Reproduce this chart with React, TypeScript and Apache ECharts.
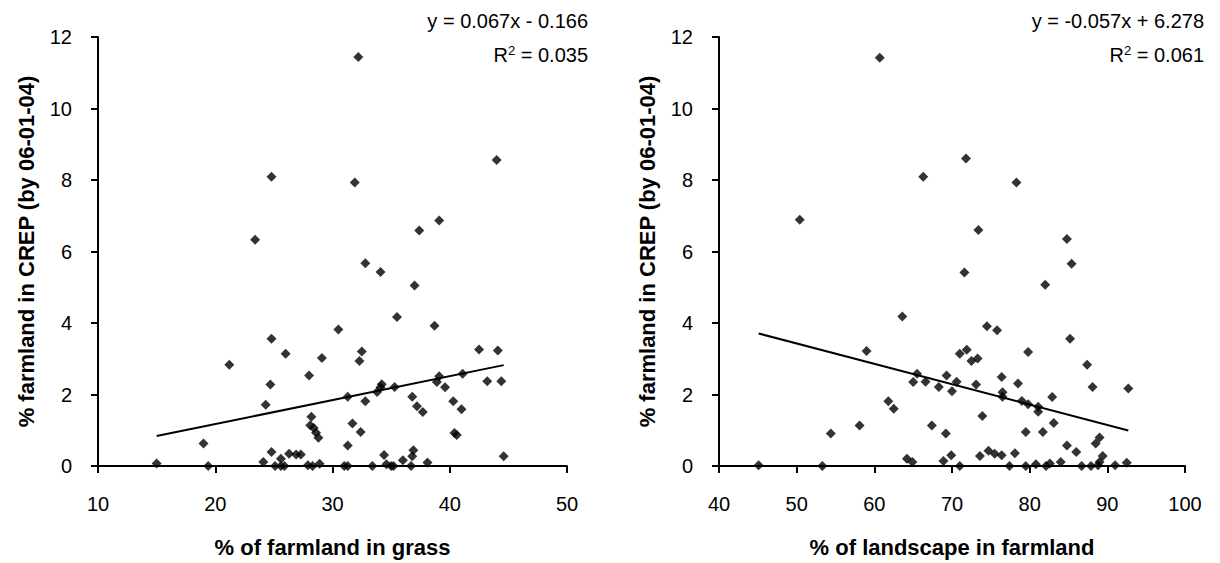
import React, { useEffect, useRef } from "react";
import * as echarts from "echarts";

// Left panel: % of farmland in grass vs % farmland in CREP
const grassPct = [
  32.2, 24.8, 31.9, 44.0, 39.1, 37.4, 23.4, 32.8, 34.1, 37.0,
  35.5, 30.5, 38.7, 24.8, 32.5, 32.3, 29.1, 26.0, 21.2, 28.0,
  24.7, 24.3, 42.5, 44.1, 43.2, 44.4, 39.1, 38.9, 41.1, 39.6,
  34.2, 34.1, 33.8, 35.3, 31.3, 32.8, 36.8, 37.2, 37.7, 40.3,
  41.0, 28.2, 28.1, 28.4, 28.6, 28.8, 31.7, 32.4, 40.4, 40.6,
  19.0, 31.3, 44.6, 34.4, 36.9, 36.8, 36.0, 38.1, 15.0, 19.4,
  24.1, 24.8, 25.1, 25.6, 25.9, 25.6, 26.3, 26.9, 27.3, 27.9,
  28.3, 28.9, 31.0, 31.3, 33.4, 34.6, 35.0, 35.2, 36.7,
];
const crepLeft = [
  11.44, 8.09, 7.93, 8.56, 6.87, 6.59, 6.33, 5.67, 5.43, 5.05,
  4.17, 3.82, 3.92, 3.56, 3.2, 2.94, 3.02, 3.14, 2.83, 2.53,
  2.28, 1.71, 3.26, 3.23, 2.37, 2.37, 2.51, 2.35, 2.58, 2.2,
  2.29, 2.2, 2.07, 2.21, 1.94, 1.81, 1.94, 1.67, 1.51, 1.81,
  1.59, 1.38, 1.14, 1.06, 0.93, 0.79, 1.19, 0.95, 0.92, 0.87,
  0.63, 0.57, 0.27, 0.31, 0.44, 0.27, 0.16, 0.1, 0.07, 0,
  0.11, 0.39, 0, 0, 0, 0.2, 0.34, 0.32, 0.32, 0.02,
  0, 0.06, 0, 0, 0, 0.05, 0, 0, 0,
];

// Right panel: % of landscape in farmland vs % farmland in CREP
const farmPct = [
  60.7, 50.4, 66.3, 71.8, 78.3, 73.4, 84.8, 85.4, 71.6, 82.0,
  63.6, 74.5, 75.8, 85.2, 59.0, 71.0, 71.9, 72.5, 73.3, 79.8,
  87.4, 65.5, 65.0, 66.6, 68.3, 69.3, 70.6, 70.0, 73.1, 76.4,
  78.5, 88.1, 92.7, 76.5, 76.5, 79.0, 79.8, 81.1, 81.1, 82.9,
  61.8, 62.5, 73.9, 58.1, 67.4, 54.4, 69.2, 79.5, 81.7, 83.1,
  89.0, 88.5, 84.8, 86.0, 89.4, 89.0, 74.7, 75.5, 76.4, 73.6,
  78.1, 69.9, 68.9, 64.2, 64.9, 45.1, 53.3, 71.0, 77.4, 79.5,
  80.8, 82.1, 82.6, 84.0, 86.7, 87.9, 88.8, 91.0, 92.5,
];
const crepRight = [
  11.42, 6.89, 8.09, 8.6, 7.93, 6.6, 6.35, 5.66, 5.41, 5.07,
  4.18, 3.91, 3.8, 3.56, 3.22, 3.14, 3.25, 2.94, 3.01, 3.19,
  2.83, 2.58, 2.35, 2.36, 2.21, 2.53, 2.36, 2.09, 2.28, 2.49,
  2.31, 2.21, 2.17, 2.06, 1.94, 1.82, 1.73, 1.66, 1.52, 1.93,
  1.81, 1.6, 1.4, 1.13, 1.13, 0.91, 0.91, 0.95, 0.95, 1.2,
  0.8, 0.63, 0.57, 0.39, 0.28, 0.11, 0.43, 0.34, 0.3, 0.28,
  0.36, 0.3, 0.14, 0.2, 0.11, 0.02, 0, 0, 0, 0,
  0.05, 0, 0.07, 0.11, 0, 0, 0.02, 0.02, 0.09,
];

// Trend line parameters (as printed on the chart)
const leftSlope = 0.067;
const leftIntercept = -0.166;
const rightSlope = -0.057;
const rightIntercept = 6.278;

const leftEquation = "y = 0.067x - 0.166";
const leftR2 = "0.035";
const rightEquation = "y = -0.057x + 6.278";
const rightR2 = "0.061";

const yTitle = "% farmland in CREP (by 06-01-04)";
const leftXTitle = "% of farmland in grass";
const rightXTitle = "% of landscape in farmland";

function trend(xs: number[], slope: number, intercept: number) {
  const lo = Math.min(...xs);
  const hi = Math.max(...xs);
  return [
    [lo, slope * lo + intercept],
    [hi, slope * hi + intercept],
  ];
}

const FONT = "Liberation Sans, Arial, sans-serif";

export default function App() {
  const ref = useRef<HTMLDivElement>(null);

  useEffect(() => {
    if (!ref.current) return;
    const chart = echarts.init(ref.current, undefined, { renderer: "svg" });

    const axisLine = { lineStyle: { color: "#000", width: 2 } };
    const axisTick = { inside: false, length: 7, lineStyle: { color: "#000", width: 2 } };
    const nameTextStyle = { color: "#000", fontSize: 22, fontWeight: "bold" as const, fontFamily: FONT };

    const makeX = (gridIndex: number, min: number, max: number, name: string) => ({
      type: "value" as const,
      gridIndex,
      min,
      max,
      interval: 10,
      name,
      nameLocation: "middle" as const,
      nameGap: 70,
      nameTextStyle,
      axisLine: { ...axisLine, onZero: false },
      axisTick,
      axisLabel: { color: "#000", fontSize: 20, fontFamily: FONT, margin: 28 },
      splitLine: { show: false },
    });
    const makeY = (gridIndex: number) => ({
      type: "value" as const,
      gridIndex,
      min: 0,
      max: 12,
      interval: 2,
      name: yTitle,
      nameLocation: "middle" as const,
      nameGap: 61,
      nameTextStyle,
      axisLine: { ...axisLine, show: true, onZero: false },
      axisTick: { ...axisTick, show: true },
      axisLabel: { color: "#000", fontSize: 20, fontFamily: FONT, margin: 26 },
      splitLine: { show: false },
    });

    const eqStyle = { fill: "#000", fontSize: 20, fontFamily: FONT };
    const supRich = {
      sup: { fontSize: 13, verticalAlign: "top" as const, fontFamily: FONT, fill: "#000", padding: [0, 0, 9, 0] },
    };

    chart.setOption({
      animation: false,
      backgroundColor: "#fff",
      grid: [
        { left: 98, top: 37, width: 469, height: 433 },
        { left: 719, top: 37, width: 466, height: 433 },
      ],
      xAxis: [makeX(0, 10, 50, leftXTitle), makeX(1, 40, 100, rightXTitle)],
      yAxis: [makeY(0), makeY(1)],
      series: [
        {
          type: "scatter",
          xAxisIndex: 0,
          yAxisIndex: 0,
          symbol: "diamond",
          symbolSize: 10,
          itemStyle: { color: "#000" },
          data: grassPct.map((x, i) => [x, crepLeft[i]]),
        },
        {
          type: "line",
          xAxisIndex: 0,
          yAxisIndex: 0,
          symbol: "none",
          lineStyle: { color: "#000", width: 2 },
          data: trend(grassPct, leftSlope, leftIntercept),
        },
        {
          type: "scatter",
          xAxisIndex: 1,
          yAxisIndex: 1,
          symbol: "diamond",
          symbolSize: 10,
          itemStyle: { color: "#000" },
          data: farmPct.map((x, i) => [x, crepRight[i]]),
        },
        {
          type: "line",
          xAxisIndex: 1,
          yAxisIndex: 1,
          symbol: "none",
          lineStyle: { color: "#000", width: 2 },
          data: trend(farmPct, rightSlope, rightIntercept),
        },
      ],
      graphic: [
        { type: "text", right: 632, top: 11, style: { ...eqStyle, text: leftEquation } },
        {
          type: "text",
          right: 632,
          top: 44,
          style: { ...eqStyle, text: "R{sup|2} = " + leftR2, rich: supRich },
        },
        { type: "text", right: 16, top: 11, style: { ...eqStyle, text: rightEquation } },
        {
          type: "text",
          right: 16,
          top: 44,
          style: { ...eqStyle, text: "R{sup|2} = " + rightR2, rich: supRich },
        },
      ],
    });

    return () => chart.dispose();
  }, []);

  return (
    <div
      ref={ref}
      style={{ position: "absolute", left: 0, top: 0, width: 1220, height: 563, background: "#fff" }}
    />
  );
}
